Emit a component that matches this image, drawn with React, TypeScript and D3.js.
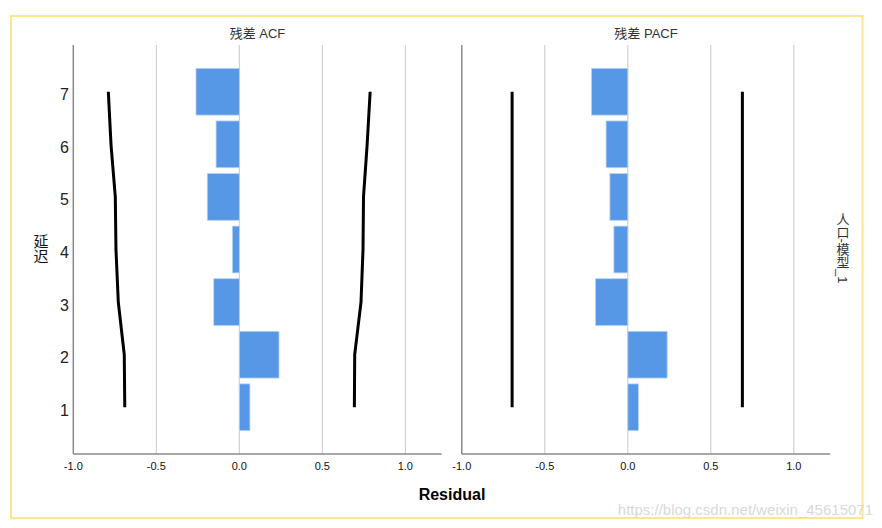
import * as d3 from 'd3'

const lags = [1, 2, 3, 4, 5, 6, 7]
const acf = [0.064, 0.239, -0.154, -0.042, -0.193, -0.14, -0.261]
const pacf = [0.064, 0.237, -0.195, -0.084, -0.108, -0.131, -0.219]
const acfUpper = [0.693, 0.695, 0.733, 0.745, 0.748, 0.77, 0.788]
const acfLower = [-0.69, -0.693, -0.729, -0.743, -0.747, -0.773, -0.789]
const pacfUpper = [0.69, 0.69, 0.69, 0.69, 0.69, 0.69, 0.69]
const pacfLower = [-0.697, -0.697, -0.697, -0.697, -0.697, -0.697, -0.697]
const xTicks = [-1.0, -0.5, 0.0, 0.5, 1.0]

const W = 882
const H = 528
const top = 45
const bottom = 454
const FONT = "Arial, 'Liberation Sans', 'Noto Sans CJK SC', sans-serif"

const y = d3.scaleBand<number>().domain(lags).range([bottom, top]).paddingInner(0.111).paddingOuter(0.444)

interface PanelProps {
  left: number
  title: string
  values: number[]
  upper: number[]
  lower: number[]
  showYTicks: boolean
}

function Panel({ left, title, values, upper, lower, showYTicks }: PanelProps) {
  const x = d3.scaleLinear().domain([-1, 1.219]).range([left, left + 368.4])
  const bw = y.bandwidth()
  const cy = (l: number) => (y(l) as number) + bw / 2
  const line = d3.line<number>()
    .x(d => x(d))
    .y((_, i) => cy(lags[i]))

  return (
    <g>
      <text x={(x.range()[0] + x.range()[1]) / 2} y={38} textAnchor="middle" fontSize={13} fill="#333" fontFamily={FONT}>
        {title}
      </text>
      {xTicks.slice(1).map(t => (
        <line key={t} x1={x(t)} x2={x(t)} y1={top} y2={bottom} stroke="#c8c8c8" strokeWidth={1} />
      ))}
      {values.map((v, i) => (
        <rect
          key={i}
          x={Math.min(x(0), x(v))}
          y={y(lags[i])}
          width={Math.abs(x(v) - x(0))}
          height={bw}
          fill="#5697e6"
          stroke="#b9d3f3"
          strokeWidth={0.8}
        />
      ))}
      <path d={line(upper) || ''} fill="none" stroke="#000" strokeWidth={3} />
      <path d={line(lower) || ''} fill="none" stroke="#000" strokeWidth={3} />
      <line x1={x(-1)} x2={x(-1)} y1={top} y2={bottom} stroke="#8a8a8a" strokeWidth={1.5} />
      <line x1={x(-1)} x2={x.range()[1]} y1={bottom} y2={bottom} stroke="#8a8a8a" strokeWidth={1.5} />
      {xTicks.map(t => (
        <text key={t} x={x(t)} y={470} textAnchor="middle" fontSize={11} fill="#111" fontFamily={FONT}>
          {t.toFixed(1)}
        </text>
      ))}
      {showYTicks &&
        lags.map(l => (
          <text key={l} x={69} y={cy(l) + 8.5} textAnchor="end" fontSize={16} fill="#222" fontFamily={FONT}>
            {l}
          </text>
        ))}
    </g>
  )
}

export default function App() {
  return (
    <svg width={W} height={H} style={{ position: 'absolute', left: 0, top: 0, background: '#fff' }}>
      <rect x={11} y={16} width={851.5} height={502} fill="#fff" stroke="#fde68c" strokeWidth={2} />
      <Panel left={73.3} title="残差 ACF" values={acf} upper={acfUpper} lower={acfLower} showYTicks={true} />
      <Panel left={461.8} title="残差 PACF" values={pacf} upper={pacfUpper} lower={pacfLower} showYTicks={false} />
      <text x={40} y={249} textAnchor="middle" fontSize={15} fill="#111" fontFamily={FONT} style={{ writingMode: 'vertical-rl' }}>
        延迟
      </text>
      <text x={842} y={248} textAnchor="middle" fontSize={13} fill="#333" fontFamily={FONT} style={{ writingMode: 'vertical-rl' }}>
        人口-模型_1
      </text>
      <text x={452} y={500} textAnchor="middle" fontSize={16} fontWeight="bold" fill="#000" fontFamily={FONT}>
        Residual
      </text>
      <text x={873} y={515} textAnchor="end" fontSize={15} fill="#d9d9d9" fontFamily={FONT}>
        https://blog.csdn.net/weixin_45615071
      </text>
    </svg>
  )
}
